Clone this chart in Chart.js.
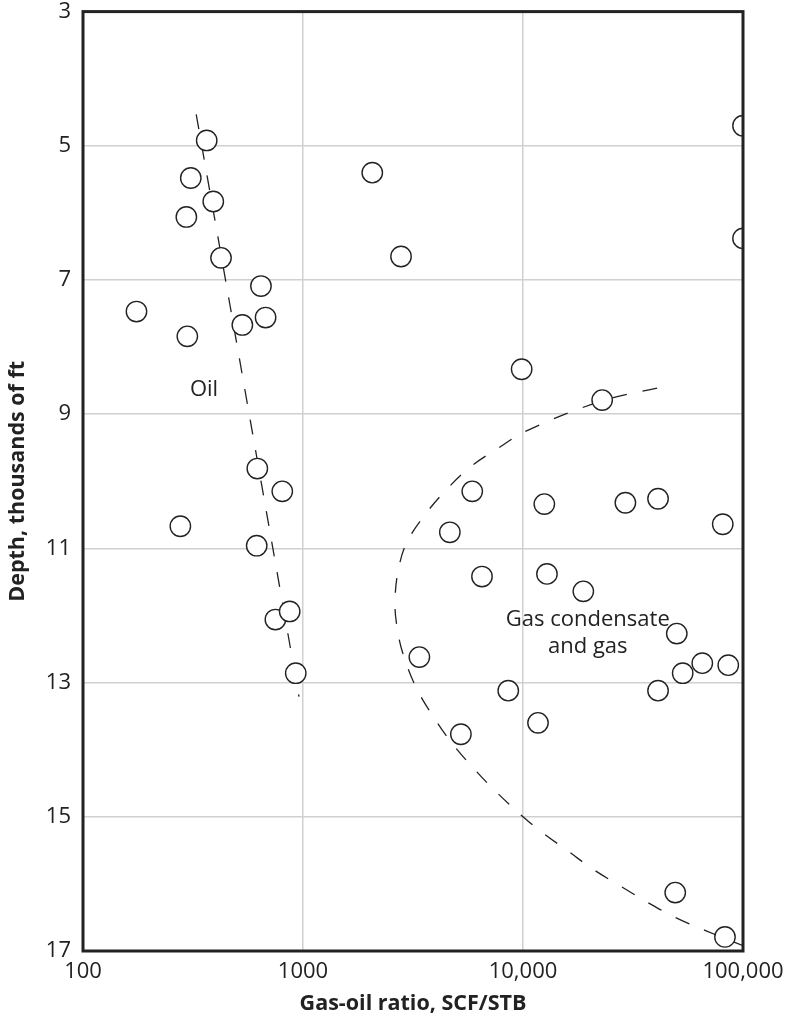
<!DOCTYPE html>
<html>
<head>
<meta charset="utf-8">
<title>Gas-oil ratio vs depth</title>
<script src="https://cdn.jsdelivr.net/npm/chart.js@4.4.1/dist/chart.umd.min.js"></script>
<style>
  html, body { margin: 0; padding: 0; background: #fff; }
  #wrap { width: 789px; height: 1022px; }
</style>
</head>
<body>
<div id="wrap"><canvas id="chart" width="789" height="1022"></canvas></div>
<script>
/* ── Data ── */
// measured wells: gas-oil ratio (SCF/STB) and depth (thousands of ft)
const wellGor = [
  365, 309, 391, 295, 424, 2065, 2790, 644, 175, 676, 530, 298,
  100000, 100000, 620, 805, 277, 616, 749, 870, 927, 9860, 22900,
  5880, 12500, 29200, 41100, 80900, 4650, 6510, 12850, 18800,
  50000, 3380, 65300, 85700, 53200, 41100, 8570, 5220, 11700, 49200, 82800
];
const wellDepth = [
  4.92, 5.48, 5.83, 6.06, 6.67, 5.40, 6.65, 7.09, 7.47, 7.56, 7.67, 7.84,
  4.70, 6.38, 9.81, 10.15, 10.67, 10.96, 12.06, 11.94, 12.86, 8.33, 8.79,
  10.15, 10.34, 10.32, 10.26, 10.64, 10.76, 11.42, 11.38, 11.64,
  12.27, 12.62, 12.71, 12.74, 12.86, 13.12, 13.12, 13.77, 13.60, 16.13, 16.79
];

// dashed trend through the oil wells
const oilTrendGor = [327, 466, 959];
const oilTrendDepth = [4.53, 7.38, 13.21];

// dashed envelope around the gas condensate wells
const gasTrendGor = [
  40700, 23000, 10500, 7600, 5750, 4500, 3600, 3000, 2750, 2620,
  2700, 2900, 3300, 3900, 4750, 5900, 7400, 10000, 12300, 16000,
  21000, 28000, 37500, 50000, 68000, 100000
];
const gasTrendDepth = [
  8.61, 8.80, 9.24, 9.52, 9.79, 10.12, 10.49, 10.88, 11.23, 11.77,
  12.25, 12.65, 13.10, 13.50, 13.90, 14.26, 14.60, 15.00, 15.24, 15.51,
  15.79, 16.04, 16.29, 16.51, 16.70, 16.92
];

// region notes
const noteText = ['Oil', 'Gas condensate', 'and gas'];
const noteGor = [355, 19700, 19700];
const noteDepth = [8.64, 12.06, 12.47];

// axes
const xTickValues = [100, 1000, 10000, 100000];
const yMin = 3, yMax = 17, yStep = 2;

/* ── Helpers ── */
const FONT = "'Open Sans', 'Noto Sans', sans-serif";
const INK = '#222';

function pairs(xs, ys) { return xs.map((v, i) => ({ x: v, y: ys[i] })); }

function fmtGor(v) {
  if (v >= 10000) return v.toLocaleString('en-US');
  return String(v);
}

/* ── Frame, notes and vertical title ── */
const decorations = {
  id: 'decorations',
  afterDatasetsDraw(chart) {
    const { ctx, chartArea: a, scales: { x, y } } = chart;
    ctx.save();

    ctx.strokeStyle = INK;
    ctx.lineWidth = 3;
    ctx.strokeRect(a.left, a.top, a.width, a.height);

    ctx.fillStyle = INK;
    ctx.font = '22px ' + FONT;
    ctx.textAlign = 'center';
    ctx.textBaseline = 'middle';
    noteText.forEach((t, i) => {
      ctx.fillText(t, x.getPixelForValue(noteGor[i]), y.getPixelForValue(noteDepth[i]));
    });

    ctx.font = 'bold 21.5px ' + FONT;
    ctx.translate(18, (a.top + a.bottom) / 2);
    ctx.rotate(-Math.PI / 2);
    ctx.fillText('Depth, thousands of ft', 0, 0);
    ctx.restore();
  }
};

/* ── Chart ── */
new Chart(document.getElementById('chart'), {
  type: 'scatter',
  data: {
    datasets: [
      {
        label: 'Wells',
        data: pairs(wellGor, wellDepth),
        pointStyle: 'circle',
        pointRadius: 10.2,
        pointBorderWidth: 1.4,
        pointBorderColor: INK,
        pointBackgroundColor: '#fff',
        showLine: false,
        clip: 0,
        order: 0,
      },
      {
        label: 'Oil trend',
        data: pairs(oilTrendGor, oilTrendDepth),
        showLine: true,
        borderColor: INK,
        borderWidth: 1.3,
        borderDash: [15, 16],
        pointRadius: 0,
        tension: 0,
        order: 1,
      },
      {
        label: 'Gas envelope',
        data: pairs(gasTrendGor, gasTrendDepth),
        showLine: true,
        borderColor: INK,
        borderWidth: 1.3,
        borderDash: [15, 16],
        pointRadius: 0,
        tension: 0.4,
        clip: 0,
        order: 1,
      },
    ]
  },
  options: {
    responsive: false,
    animation: false,
    layout: { padding: { top: 9, right: 46, bottom: 0, left: 0 } },
    plugins: {
      legend: { display: false },
      tooltip: { enabled: false },
    },
    scales: {
      x: {
        type: 'logarithmic',
        min: 100,
        max: 100000,
        afterBuildTicks: s => { s.ticks = xTickValues.map(v => ({ value: v })); },
        afterFit: s => { s.height = 71; s.paddingLeft = 0; s.paddingRight = 0; },
        grid: { color: '#d0d0d0', lineWidth: 1.5, drawTicks: false },
        border: { display: false },
        ticks: {
          callback: v => fmtGor(v),
          color: INK,
          padding: 8,
          maxRotation: 0,
          autoSkip: false,
          font: { family: FONT, size: 22 },
        },
        title: {
          display: true,
          text: 'Gas-oil ratio, SCF/STB',
          color: INK,
          font: { family: FONT, size: 21.5, weight: 'bold' },
          padding: { top: 0, bottom: 5 },
        },
      },
      y: {
        reverse: true,
        min: yMin,
        max: yMax,
        afterFit: s => { s.width = 83; s.paddingTop = 0; s.paddingBottom = 0; },
        grid: { color: '#d0d0d0', lineWidth: 1.5, drawTicks: false },
        border: { display: false },
        ticks: {
          stepSize: yStep,
          color: INK,
          padding: 12,
          font: { family: FONT, size: 22 },
        },
      },
    },
  },
  plugins: [decorations],
});
</script>
</body>
</html>
